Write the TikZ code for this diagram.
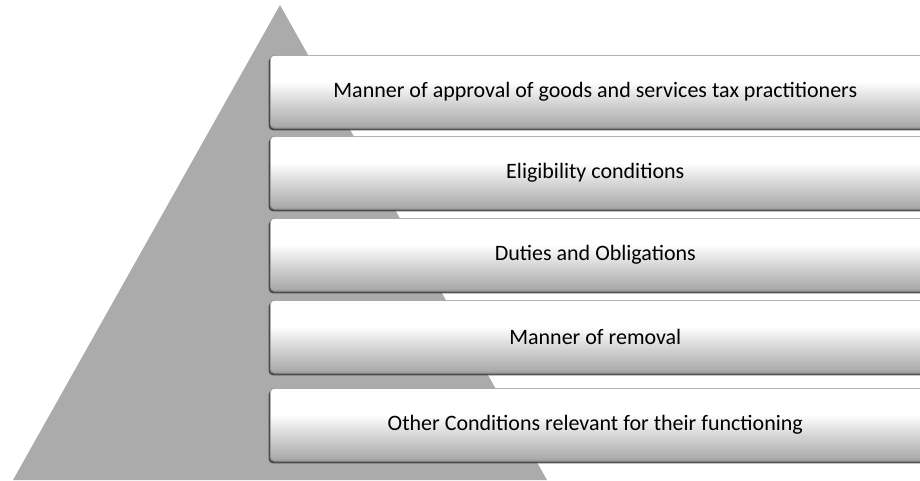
\documentclass[tikz,border=0pt]{standalone}
\usepackage{fontspec}
\setmainfont{Carlito}
\usetikzlibrary{shadows}
\definecolor{PyramidGray}{HTML}{ABABAB}
\definecolor{LayerEdge}{HTML}{8C8C8C}
\pgfdeclareverticalshading{layershade}{100bp}{%
    color(0bp)=(black!42); color(25bp)=(black!42); color(27bp)=(black!33);
    color(45bp)=(black!14); color(57bp)=(white); color(100bp)=(white)}
\tikzset{
    % Layer boxes lying across the pyramid
    layer box/.style={
        rectangle,
        rounded corners=4pt,
        draw=LayerEdge,
        line width=0.6pt,
        shading=layershade,
        drop shadow={shadow xshift=-1.6pt, shadow yshift=-2pt, fill=black!75, opacity=0.9},
        minimum width=660pt,
        minimum height=73pt,
        anchor=north west,
        align=center,
        inner sep=0pt,
        text=black,
        font=\fontsize{22}{26}\selectfont
    },
    pyramid/.style={
        fill=PyramidGray
    }
}
\begin{document}
\begin{tikzpicture}[x=1pt, y=-1pt]
        \useasboundingbox (0,0) rectangle (920,480);
        \clip (0,0) rectangle (920,480);

        % Pyramid
        \coordinate (apex) at (280,5);
        \coordinate (base-right) at (547,480);
        \coordinate (base-left) at (13,480);
        \fill[pyramid] (apex) -- (base-right) -- (base-left) -- cycle;

        % Layers
        \node[layer box] (layer-1) at (270,55) {\hspace*{-10pt}Manner of approval of goods and services tax practitioners};
        \node[layer box] (layer-2) at (270,136) {\hspace*{-10pt}Eligibility conditions};
        \node[layer box] (layer-3) at (270,218) {\hspace*{-10pt}Duties and Obligations};
        \node[layer box] (layer-4) at (270,300) {\hspace*{-10pt}Manner of removal};
        \node[layer box] (layer-5) at (270,388) {\hspace*{-10pt}Other Conditions relevant for their functioning};
    \end{tikzpicture}
\end{document}
